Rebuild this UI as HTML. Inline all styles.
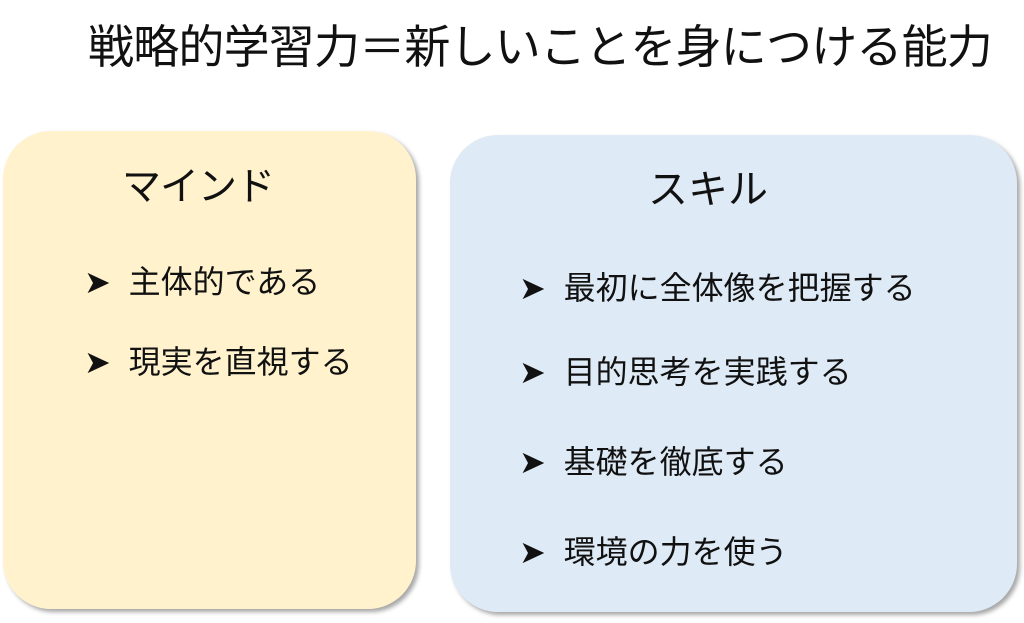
<!DOCTYPE html>
<html><head><meta charset="utf-8"><style>
body{margin:0;width:1024px;height:623px;background:#fff;position:relative;overflow:hidden;font-family:"Liberation Sans","Noto Sans CJK JP",sans-serif;color:#111}
.t{position:absolute;white-space:nowrap;line-height:1}
.box{position:absolute;border-radius:48px;box-shadow:3px 3px 4px rgba(0,0,0,0.35)}
</style></head><body>
<div class="t" style="left:88px;top:24px;font-size:46px;letter-spacing:-0.8px">戦略的学習力＝新しいことを身につける能力</div>
<div class="box" style="left:3px;top:131px;width:413px;height:478px;background:#FFF2CC"></div>
<div class="box" style="left:450px;top:135px;width:567px;height:477px;background:#DEEAF6"></div>
<div class="t" style="left:122px;top:168px;font-size:39px;letter-spacing:-1px">マインド</div>
<div class="t" style="left:648px;top:170px;font-size:40px">スキル</div>
<div class="t" style="left:84px;top:266px;font-size:32px">➤&nbsp; 主体的である</div>
<div class="t" style="left:84px;top:346px;font-size:32px">➤&nbsp; 現実を直視する</div>
<div class="t" style="left:519px;top:272px;font-size:32px">➤&nbsp; 最初に全体像を把握する</div>
<div class="t" style="left:519px;top:356px;font-size:32px">➤&nbsp; 目的思考を実践する</div>
<div class="t" style="left:519px;top:446px;font-size:32px">➤&nbsp; 基礎を徹底する</div>
<div class="t" style="left:519px;top:536px;font-size:32px">➤&nbsp; 環境の力を使う</div>
</body></html>
